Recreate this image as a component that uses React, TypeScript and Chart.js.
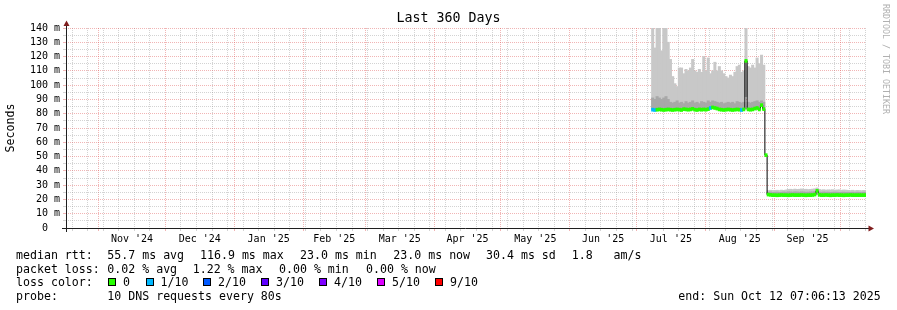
import React, { useEffect, useRef } from 'react';
import { Chart, registerables } from 'chart.js';

Chart.register(...registerables);

const FONT = '"DejaVu Sans Mono", monospace';

// ---- time frame -------------------------------------------------------
const END_MS = Date.UTC(2025, 9, 12, 7, 6, 13);
const RANGE_DAYS = 360;
const START_MS = END_MS - RANGE_DAYS * 86400000;
const dayOf = (y: number, m: number, d: number) => (Date.UTC(y, m, d) - START_MS) / 86400000;

// ---- axis labels ---------------------------------------------------------
const monthLabels = ["Nov '24", "Dec '24", "Jan '25", "Feb '25", "Mar '25", "Apr '25", "May '25", "Jun '25", "Jul '25", "Aug '25", "Sep '25"];
const monthBounds: [number, number][] = [
  [2024, 10], [2024, 11], [2025, 0], [2025, 1], [2025, 2], [2025, 3],
  [2025, 4], [2025, 5], [2025, 6], [2025, 7], [2025, 8], [2025, 9],
];
const firstSunday: [number, number, number] = [2024, 9, 20];
const yMax = 140;
const yStep = 5;

// ---- data (one sample per day, days since start of the 360-day window) ----
const firstSampleDay = 264;
const medianRtt = [
  82.8, 82.6, 82.8, 83, 82.8, 82.6, 82.8, 83, 82.8, 82.6,
  82.8, 83, 82.8, 82.6, 83.2, 83, 82.8, 83, 83.4, 82.8,
  82.6, 83, 82.8, 83, 82.8, 83.2, 84, 84.4, 84, 83.6,
  83, 82.8, 82.6, 82.8, 83, 82.8, 82.6, 82.8, 83, 82.8,
  82.6, 83, 117, 83, 82.8, 83, 83.6, 84, 83, 86,
  83.2, 51,
  23.4, 23.2, 23, 23, 22.9, 23, 23.1, 23, 23, 22.9,
  23, 23.1, 23, 23, 23, 23.1, 23, 22.9, 23, 23,
  23.1, 23.4, 26, 23.2, 23, 23, 23.1, 23, 22.9, 23,
  23, 23.1, 23, 23, 22.9, 23, 23, 23.1, 23, 23,
  23, 23, 23, 23, 23,
];
const smokeHigh: (number | null)[] = [
  140, 126, 140, 140, 124, 140, 140, 130, 118, 106,
  101, 99, 112, 112, 108, 111, 110, 112, 118, 110,
  109, 111, 109, 120, 110, 119, 108, 110, 116, 110,
  113, 110, 108, 106, 105, 107, 106, 109, 113, 114,
  109, 110, 140, 113, 112, 114, 112, 119, 115, 121,
  114, null,
  26.2, 26.4, 26.2, 26.3, 26.4, 26.2, 26.5, 26.3, 26.6, 27,
  27.1, 26.9, 27.2, 27, 27.1, 27.3, 27, 27.1, 26.9, 27,
  27.2, 27.4, 28, 27, 26.6, 26.8, 26.5, 26.7, 26.6, 26.8,
  26.5, 26.6, 26.7, 26.4, 26.6, 26.5, 26.3, 26.2, 26.4, 26.1,
  26.3, 26.2, 26.1, 26.3, 26.2,
];
const smokeMid: (number | null)[] = [
  91, 90, 92, 91, 90, 91, 92, 90, 88, 87.5,
  88, 89, 87.5, 88, 87, 88.5, 87.5, 88, 89, 87.5,
  88, 87, 88.5, 88, 87.5, 89, 88, 89, 88.5, 88,
  87.5, 88, 87, 87.5, 88, 87.5, 88, 87, 88.5, 88,
  87.5, 88, 92, 88, 87.5, 88, 88.5, 89, 88, 89,
  88, null,
  25, 25.2, 24.9, 25, 25.1, 24.9, 25, 25.2, 25, 25.3,
  25.2, 25.1, 25.3, 25.2, 25.1, 25.3, 25.2, 25, 25.1, 25.2,
  25.3, 25.4, 26.5, 25.1, 25, 25.2, 25, 25.1, 24.9, 25,
  25.1, 25, 24.9, 25, 25.1, 24.9, 25, 24.9, 25, 24.8,
  25, 24.9, 24.8, 25, 24.9,
];
const lossTenths = [
  1, 1, 0, 0, 0, 0, 0, 0, 0, 0,
  0, 0, 0, 0, 0, 0, 0, 0, 0, 0,
  0, 0, 0, 0, 0, 0, 1, 0, 0, 0,
  0, 0, 0, 0, 0, 0, 0, 0, 0, 0,
  1, 0, 0, 0, 0, 0, 0, 0, 0, 0,
  0, 0,
  0, 0, 0, 0, 0, 0, 0, 0, 0, 0,
  0, 0, 0, 0, 0, 0, 0, 0, 0, 0,
  0, 0, 0, 0, 0, 0, 0, 0, 0, 0,
  0, 0, 0, 0, 0, 0, 0, 0, 0, 0,
  0, 0, 0, 0, 0,
];

// ---- legend content --------------------------------------------------------
const lossLevels = [0, 1, 2, 3, 4, 5, 9];
const lossLabels = ['0', '1/10', '2/10', '3/10', '4/10', '5/10', '9/10'];
const lossColors = ['#26ff00', '#00b8ff', '#0059ff', '#5e00ff', '#7e00ff', '#dd00ff', '#ff0000'];
const rttStats = ['55.7 ms avg', '116.9 ms max', '23.0 ms min', '23.0 ms now', '30.4 ms sd', '1.8   am/s'];
const lossStats = ['0.02 % avg', '1.22 % max', '0.00 % min', '0.00 % now'];

// ---- style / layout ------------------------------------------------------
const CANVAS_W = 897;
const CANVAS_H = 310;
const PLOT_LEFT = 66;
const PLOT_TOP = 28;
const PLOT_RIGHT_PAD = 31;
const X_AXIS_H = 82;
const GRID_MINOR = 'rgba(140,140,140,0.38)';
const GRID_MAJOR = 'rgba(222,79,79,0.42)';
const AXIS = '#1f1f1f';
const ARROW = '#801e1e';
const SMOKE_LIGHT = '#c8c8c8';
const SMOKE_DARK = '#a8a8a8';

const lossColorOf = (l: number) => {
  let c = lossColors[0];
  lossLevels.forEach((lv, i) => { if (l >= lv) c = lossColors[i]; });
  return c;
};

type XT = { value: number; kind: 'major' | 'minor' | 'label'; label: string };
const buildXTicks = (): XT[] => {
  const out: XT[] = [];
  monthBounds.forEach(([y, m]) => out.push({ value: dayOf(y, m, 1), kind: 'major', label: '' }));
  for (let t = Date.UTC(...firstSunday); t <= END_MS; t += 7 * 86400000) {
    const v = (t - START_MS) / 86400000;
    if (!out.some((k) => Math.abs(k.value - v) < 0.05)) out.push({ value: v, kind: 'minor', label: '' });
  }
  monthLabels.forEach((lab, i) => {
    const a = dayOf(monthBounds[i][0], monthBounds[i][1], 1);
    const b = dayOf(monthBounds[i + 1][0], monthBounds[i + 1][1], 1);
    out.push({ value: (a + b) / 2, kind: 'label', label: lab });
  });
  out.sort((p, q) => p.value - q.value);
  return out;
};
const xTicks = buildXTicks();

const axisPlugin = {
  id: 'rrdAxes',
  afterDraw(chart: any) {
    const { ctx, chartArea } = chart;
    const x0 = Math.round(chartArea.left) + 0.5;
    const y0 = Math.round(chartArea.bottom) + 0.5;
    ctx.save();
    ctx.strokeStyle = AXIS;
    ctx.lineWidth = 1;
    ctx.beginPath();
    ctx.moveTo(chartArea.left - 4, y0);
    ctx.lineTo(chartArea.right + 3, y0);
    ctx.moveTo(x0, chartArea.bottom + 4);
    ctx.lineTo(x0, chartArea.top - 3);
    ctx.stroke();
    ctx.fillStyle = ARROW;
    ctx.beginPath();
    ctx.moveTo(x0, chartArea.top - 7.5);
    ctx.lineTo(x0 - 3, chartArea.top - 2);
    ctx.lineTo(x0 + 3, chartArea.top - 2);
    ctx.closePath();
    ctx.fill();
    ctx.beginPath();
    ctx.moveTo(chartArea.right + 8, y0);
    ctx.lineTo(chartArea.right + 2.5, y0 - 3);
    ctx.lineTo(chartArea.right + 2.5, y0 + 3);
    ctx.closePath();
    ctx.fill();
    ctx.restore();
  },
};

const ChartCanvas = () => {
  const ref = useRef<HTMLCanvasElement | null>(null);
  useEffect(() => {
    if (!ref.current) return;
    const smokeLightData: any[] = [];
    const smokeDarkData: any[] = [];
    const medianLine: any[] = [];
    const medianBand: any[] = [];
    const bandColors: string[] = [];
    medianRtt.forEach((m, i) => {
      const d = firstSampleDay + i;
      if (smokeHigh[i] != null) smokeLightData.push({ x: d, y: [m, smokeHigh[i]] });
      if (smokeMid[i] != null) smokeDarkData.push({ x: d, y: [m, smokeMid[i]] });
      medianLine.push({ x: d, y: m });
      medianBand.push({ x: d, y: [m - 1.0, m + 1.0] });
      bandColors.push(lossColorOf(lossTenths[i]));
    });
    const pxPerDay = (CANVAS_W - PLOT_LEFT - PLOT_RIGHT_PAD) / RANGE_DAYS;
    const barCommon = { grouped: false, barThickness: pxPerDay, borderWidth: 0, inflateAmount: 0.4 };
    const chart = new Chart(ref.current, {
      type: 'bar',
      data: {
        datasets: [
          { type: 'bar', label: 'smoke', data: smokeLightData, backgroundColor: SMOKE_LIGHT, order: 5, ...barCommon },
          { type: 'bar', label: 'smoke inner', data: smokeDarkData, backgroundColor: SMOKE_DARK, order: 4, ...barCommon },
          { type: 'line', label: 'median', data: medianLine, borderColor: '#000000', borderWidth: 1, stepped: 'middle', pointRadius: 0, fill: false, order: 3 },
          { type: 'bar', label: 'loss', data: medianBand, backgroundColor: bandColors, order: 1, ...barCommon },
        ] as any,
      },
      options: {
        animation: false,
        responsive: false,
        devicePixelRatio: 1,
        layout: { padding: { top: PLOT_TOP, right: PLOT_RIGHT_PAD, bottom: 0, left: 0 } },
        plugins: {
          legend: { display: false },
          tooltip: { enabled: false },
          title: { display: false },
        },
        scales: {
          x: {
            type: 'linear',
            min: 0,
            max: RANGE_DAYS,
            offset: false,
            z: 1,
            afterBuildTicks: (s: any) => { s.ticks = xTicks.map((t) => ({ value: t.value })); },
            afterFit: (s: any) => { s.height = X_AXIS_H; },
            grid: {
              offset: false,
              tickLength: 3,
              lineWidth: 1,
              color: (c: any) => {
                const k = xTicks[c.index]?.kind;
                return k === 'major' ? GRID_MAJOR : k === 'minor' ? GRID_MINOR : 'rgba(0,0,0,0)';
              },
              tickColor: (c: any) => {
                const k = xTicks[c.index]?.kind;
                return k === 'major' ? GRID_MAJOR : k === 'minor' ? GRID_MINOR : 'rgba(0,0,0,0)';
              },
            },
            border: { display: false, dash: [1, 1] },
            ticks: {
              autoSkip: false,
              maxRotation: 0,
              minRotation: 0,
              padding: 2,
              color: '#000',
              font: { family: FONT, size: 10 },
              callback: (_v: any, i: number) => xTicks[i]?.label ?? '',
            },
          },
          y: {
            type: 'linear',
            min: 0,
            max: yMax,
            z: 1,
            afterFit: (s: any) => { s.width = PLOT_LEFT; },
            grid: {
              tickLength: 3,
              lineWidth: 1,
              color: (c: any) => (c.tick && c.tick.value % 10 === 0 ? GRID_MAJOR : GRID_MINOR),
            },
            border: { display: false, dash: [1, 1] },
            ticks: {
              stepSize: yStep,
              autoSkip: false,
              padding: 3,
              color: '#000',
              font: { family: FONT, size: 10 },
              callback: (v: any) => (v % 10 === 0 ? (v === 0 ? '0  ' : `${v} m`) : ''),
            },
            title: {
              display: true,
              text: 'Seconds',
              color: '#000',
              font: { family: FONT, size: 11.6 },
              padding: { top: 4, bottom: 0 },
            },
          },
        },
      } as any,
      plugins: [axisPlugin],
    });
    return () => chart.destroy();
  }, []);
  return <canvas ref={ref} width={CANVAS_W} height={CANVAS_H} style={{ position: 'absolute', left: 0, top: 0, width: CANVAS_W, height: CANVAS_H }} />;
};

const ROW_BASE = [259, 272.5, 286, 299.5];
const txt = (x: number, row: number, text: string, key: string) => (
  <div key={key} style={{ position: 'absolute', left: x, top: ROW_BASE[row] - 11, font: `11.6px ${FONT}`, lineHeight: '14px', whiteSpace: 'pre', color: '#000' }}>{text}</div>
);

const rttX = [107.3, 200, 300, 393.3, 486, 571.7];
const lossX = [107.3, 192.7, 279, 366];
const boxX = [108, 145.5, 203, 261, 319, 377, 435];

export default function App() {
  return (
    <div style={{ position: 'fixed', left: 0, top: 0, width: CANVAS_W, height: CANVAS_H, background: '#fff', overflow: 'hidden' }}>
      <ChartCanvas />
      <div style={{ position: 'absolute', left: 0, top: 10, width: CANVAS_W, textAlign: 'center', font: `13.3px ${FONT}`, lineHeight: '16px', color: '#000', whiteSpace: 'pre' }}>Last 360 Days</div>
      <div style={{ position: 'absolute', left: 881, top: 4, writingMode: 'vertical-rl', font: `8.3px ${FONT}`, lineHeight: '10px', color: '#b0b0b0', whiteSpace: 'pre' }}>RRDTOOL / TOBI OETIKER</div>
      {txt(16, 0, 'median rtt:', 'r0')}
      {rttStats.map((s, i) => txt(rttX[i], 0, s, 'rs' + i))}
      {txt(16, 1, 'packet loss:', 'l0')}
      {lossStats.map((s, i) => txt(lossX[i], 1, s, 'ls' + i))}
      {txt(16, 2, 'loss color:', 'c0')}
      {lossLabels.map((lab, i) => (
        <React.Fragment key={'lc' + i}>
          <div style={{ position: 'absolute', left: boxX[i], top: 278, width: 8, height: 8, boxSizing: 'border-box', border: '1px solid #000', background: lossColors[i] }} />
          {txt(boxX[i] + 15, 2, lab, 'lt' + i)}
        </React.Fragment>
      ))}
      {txt(16, 3, 'probe:', 'p0')}
      {txt(107.3, 3, '10 DNS requests every 80s', 'p1')}
      {txt(678.3, 3, 'end: Sun Oct 12 07:06:13 2025', 'e0')}
    </div>
  );
}
